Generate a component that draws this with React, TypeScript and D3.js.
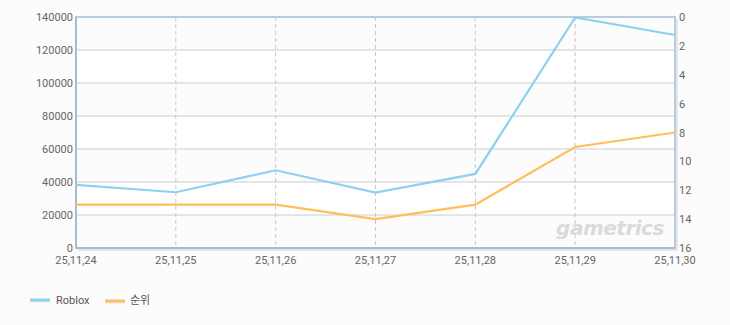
import React from "react";
import * as d3 from "d3";

const categories = ["25,11,24", "25,11,25", "25,11,26", "25,11,27", "25,11,28", "25,11,29", "25,11,30"];
const robloxValues = [38200, 33800, 47100, 33600, 44900, 139700, 129100];
const rankValues = [13, 13, 13, 14, 13, 9, 8];
const leftTicks = [0, 20000, 40000, 60000, 80000, 100000, 120000, 140000];
const rightTicks = [0, 2, 4, 6, 8, 10, 12, 14, 16];

const W = 730, H = 325;
const L = 76, R = 675, T = 17, B = 248;

export default function App() {
  const x = d3.scalePoint<string>().domain(categories).range([L, R]);
  const yL = d3.scaleLinear().domain([0, 140000]).range([B, T]);
  const yR = d3.scaleLinear().domain([0, 16]).range([T, B]);
  const lineL = d3.line<number>().x((_, i) => x(categories[i])!).y(d => yL(d));
  const lineR = d3.line<number>().x((_, i) => x(categories[i])!).y(d => yR(d));
  const font = "Roboto, 'Noto Sans', sans-serif";
  return (
    <svg width={W} height={H} style={{ position: "absolute", left: 0, top: 0 }}>
      <rect width={W} height={H} fill="#fcfcfc" />
      <rect x={L} y={T} width={R - L} height={B - T} fill="#ffffff" />
      {leftTicks.slice(0, -1).map((t, i) =>
        i % 2 === 0 ? (
          <rect key={"b" + t} x={L} y={yL(t + 20000)} width={R - L} height={yL(t) - yL(t + 20000)} fill="#fcfcfc" />
        ) : null
      )}
      {leftTicks.map(t => (
        <line key={"g" + t} x1={L} x2={R} y1={yL(t)} y2={yL(t)} stroke="#cccccc" strokeWidth={1} />
      ))}
      {categories.map(c => (
        <line key={"v" + c} x1={x(c)} x2={x(c)} y1={T} y2={B} stroke="#c8c8c8" strokeDasharray="4,3" strokeWidth={1} />
      ))}
      <line x1={L + 2} x2={R + 2} y1={B + 2} y2={B + 2} stroke="#e6e6e6" strokeWidth={2} />
      <line x1={R + 2} x2={R + 2} y1={T + 2} y2={B + 2} stroke="#e6e6e6" strokeWidth={2} />
      <rect x={L} y={T} width={R - L} height={B - T} fill="none" stroke="#b9cbdd" strokeWidth={2} />
      <line x1={L} x2={L} y1={T} y2={B} stroke="#a9bccf" strokeWidth={2} />
      <line x1={L} x2={R} y1={B} y2={B} stroke="#a9bccf" strokeWidth={2} />
      <text x={610} y={235} textAnchor="middle" fontFamily="'DejaVu Sans', sans-serif" fontStyle="italic" fontWeight="bold" fontSize={20} fill="#dadada" letterSpacing={-0.5}>gametrics</text>
      <path d={lineR(rankValues)!} fill="none" stroke="#ffbf5a" strokeWidth={2.2} />
      <path d={lineL(robloxValues)!} fill="none" stroke="#8fd0f0" strokeWidth={2.2} />
      {leftTicks.map(t => (
        <text key={"l" + t} x={L - 3} y={yL(t) + 4} textAnchor="end" fontFamily={font} fontSize={11} fill="#666">{t}</text>
      ))}
      {rightTicks.map(t => (
        <text key={"r" + t} x={R + 4} y={yR(t) + 4} textAnchor="start" fontFamily={font} fontSize={11} fill="#666">{t}</text>
      ))}
      {categories.map(c => (
        <text key={"c" + c} x={x(c)} y={B + 16} textAnchor="middle" fontFamily={font} fontSize={11} fill="#666">{c}</text>
      ))}
      <line x1={30} x2={50} y1={301} y2={301} stroke="#e6e6e6" strokeWidth={3} />
      <line x1={30} x2={50} y1={300} y2={300} stroke="#8fd0f0" strokeWidth={3} />
      <text x={56} y={304} fontFamily={font} fontSize={11} fill="#555">Roblox</text>
      <line x1={105} x2={125} y1={302} y2={302} stroke="#e6e6e6" strokeWidth={3} />
      <line x1={105} x2={125} y1={301} y2={301} stroke="#ffbf5a" strokeWidth={3} />
      <text x={130} y={304} fontFamily="'Noto Sans CJK KR', sans-serif" fontSize={11} fill="#555">순위</text>
    </svg>
  );
}
